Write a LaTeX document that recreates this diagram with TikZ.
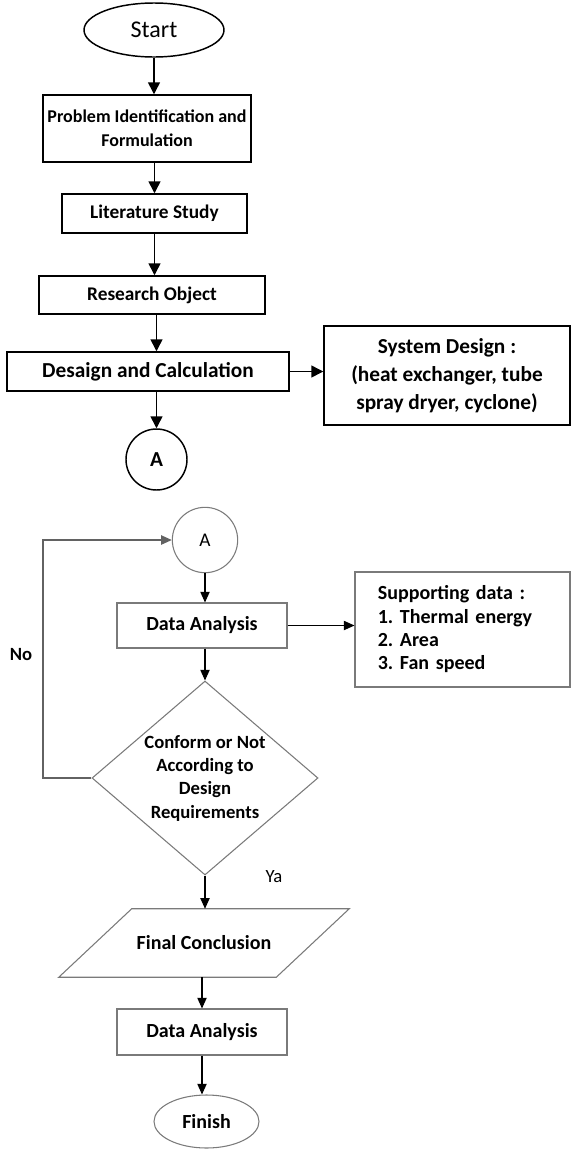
\documentclass[tikz,border=0pt]{standalone}
\usepackage{fontspec}
\setmainfont{Carlito}
\usetikzlibrary{arrows.meta}
\usetikzlibrary{shapes.geometric}
\usetikzlibrary{positioning}

\definecolor{boxgray}{HTML}{7A7A7A}
\frenchspacing

\begin{document}
\begin{tikzpicture}[x=0.75pt,y=0.75pt,
		upbox/.style={draw,line width=1.1pt,inner sep=0pt,align=center},
		lowbox/.style={draw=boxgray,line width=0.8pt,inner sep=0pt,align=center},
		lowline/.style={draw=boxgray,line width=0.8pt},
		uparrow/.style={line width=1.1pt,-{Triangle[length=9pt,width=9pt]}},
		lowarrow/.style={line width=0.8pt,-{Triangle[length=8pt,width=7pt]}},
		looparrow/.style={draw=boxgray!80!black,line width=0.9pt,-{Triangle[length=8pt,width=7pt]}}]
		\useasboundingbox (0,0) rectangle (571,-1150);
		% upper part
		\node[upbox,ellipse,minimum width=105pt,minimum height=40.5pt,font=\fontsize{18}{22}\selectfont] (start) at (154,-30) {Start};
		\node[upbox,minimum width=156pt,minimum height=50.25pt,font=\fontsize{13.5}{18}\selectfont\bfseries] (ident) at (147,-128.5) {Problem Identification and\\Formulation};
		\node[upbox,minimum width=138.75pt,minimum height=29.25pt,font=\fontsize{14.5}{18}\selectfont\bfseries] (lit) at (154.5,-213.5) {Literature Study};
		\node[upbox,minimum width=169.5pt,minimum height=28.5pt,font=\fontsize{14.5}{18}\selectfont\bfseries] (object) at (152,-295) {Research Object};
		\node[upbox,minimum width=211.5pt,minimum height=29.25pt,font=\fontsize{16}{20}\selectfont\bfseries] (calc) at (148,-371.5) {Desaign and Calculation};
		\node[upbox,minimum width=184.5pt,minimum height=74.25pt,font=\fontsize{16}{21}\selectfont\bfseries] (sysdesign) at (447,-375.5) {System Design :\\(heat exchanger, tube\\spray dryer, cyclone)};
		\node[upbox,circle,minimum size=45.75pt,font=\fontsize{16}{20}\selectfont\bfseries] (conA) at (156.5,-459.5) {A};
		\draw[uparrow] (start.south) -- (start.south |- ident.north);
		\draw[uparrow] (lit.north |- ident.south) -- (lit.north);
		\draw[uparrow] (lit.south) -- (lit.south |- object.north);
		\draw[uparrow] (conA.north |- object.south) -- (conA.north |- calc.north);
		\draw[uparrow] (calc.east) -- (calc.east -| sysdesign.west);
		\draw[uparrow] (conA.north |- calc.south) -- (conA.north);
		% lower part
		\node[lowbox,circle,minimum size=49pt,font=\fontsize{14.5}{18}\selectfont] (conB) at (205,-540) {A};
		\node[lowbox,minimum width=127.5pt,minimum height=33.75pt,font=\fontsize{15}{18}\selectfont\bfseries] (analysis) at (202,-625.5) {Data Analysis};
		\node[lowbox,minimum width=161.25pt,minimum height=86.25pt,inner xsep=17pt,text width=127pt,align=left,font=\fontsize{15}{17.5}\selectfont\bfseries] (support) at (462.5,-629.5) {Supporting data :\\1. Thermal energy\\2. Area\\3. Fan speed};
		\node[lowbox,diamond,aspect=1.165,minimum width=169.5pt,minimum height=145.5pt,font=\fontsize{14}{17.5}\selectfont\bfseries] (check) at (205,-778) {Conform or Not\\According to\\Design\\Requirements};
		\node[inner sep=0pt,minimum width=217.5pt,minimum height=51pt,font=\fontsize{15}{18}\selectfont\bfseries] (concl) at (204,-943) {Final Conclusion};
		\draw[lowline] ([xshift=54.75pt]concl.north west) -- (concl.north east) -- ([xshift=-54.75pt]concl.south east) -- (concl.south west) -- cycle;
		\node[lowbox,minimum width=127.5pt,minimum height=34.5pt,font=\fontsize{15}{18}\selectfont\bfseries] (analysis2) at (202,-1032) {Data Analysis};
		\node[lowbox,ellipse,minimum width=78.75pt,minimum height=39.75pt,font=\fontsize{15}{18}\selectfont\bfseries] (finish) at (206.5,-1121.5) {Finish};
		\node[font=\fontsize{14}{17}\selectfont\bfseries] (no) at (21,-655) {No};
		\node[font=\fontsize{14}{17}\selectfont] (ya) at (274,-877) {Ya};
		\coordinate (back) at (43,-540);
		\draw[lowarrow] (conB.south) -- (conB.south |- analysis.north);
		\draw[lowarrow] (analysis.east) -- (analysis.east -| support.west);
		\draw[lowarrow] (check.north |- analysis.south) -- (check.north);
		\draw[looparrow] (check.west) -| (back) -- (conB.west);
		\draw[lowarrow] (check.south) -- (check.south |- concl.north);
		\draw[lowarrow] (analysis2.north |- concl.south) -- (analysis2.north);
		\draw[lowarrow] (analysis2.south) -- (analysis2.south |- finish.north);
	\end{tikzpicture}
\end{document}
